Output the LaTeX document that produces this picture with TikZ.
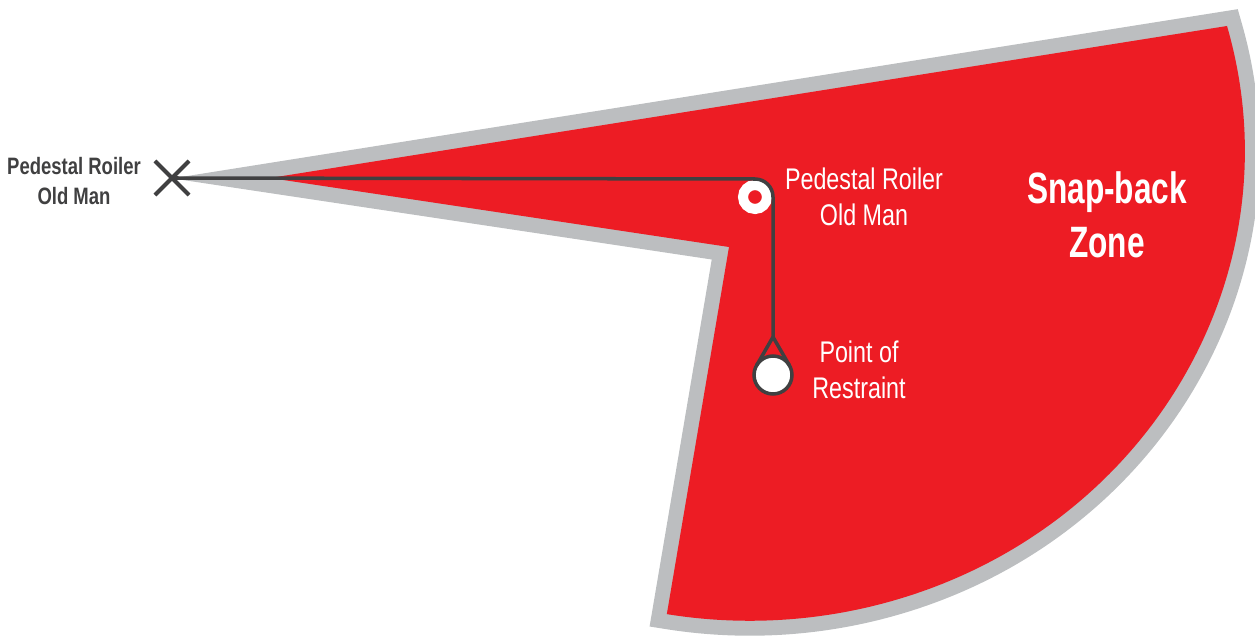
\documentclass[tikz,border=0pt]{standalone}
\usepackage{fontspec}
\usetikzlibrary{shapes.misc,calc,positioning}
\newfontfamily\condfont{Liberation Sans}[FakeStretch=0.72]
\newfontfamily\narrowfont{Liberation Sans}[FakeStretch=0.78]
\definecolor{zonered}{RGB}{237, 28, 36}
\definecolor{zonegrey}{RGB}{188, 190, 192}
\definecolor{ropegrey}{RGB}{64, 64, 65}

\begin{document}
\begin{tikzpicture}[
    x=0.02cm, y=0.02cm,
    zone/.style={fill=zonered, preaction={draw=zonegrey, line width=17pt, line join=miter}},
    rope/.style={draw=ropegrey, line width=2pt, line join=round},
    anchorpt/.style={cross out, draw=ropegrey, line width=2.3pt, minimum size=0.6cm, inner sep=0pt},
    roller/.style={circle, draw=white, fill=zonered, line width=5.7pt, minimum size=0.48cm, inner sep=0pt},
    restraint/.style={circle, draw=ropegrey, fill=white, line width=2pt, minimum size=0.76cm, inner sep=0pt, outer sep=0pt},
    darklabel/.style={align=center, text=ropegrey, font=\narrowfont\bfseries\fontsize{13.5}{17.5}\selectfont, inner sep=0pt},
    whitelabel/.style={align=center, text=white, font=\narrowfont\fontsize{17}{20.7}\selectfont, inner sep=0pt},
    zonelabel/.style={align=center, text=white, font=\condfont\bfseries\fontsize{25}{31}\selectfont, inner sep=0pt}
  ]
  \useasboundingbox (0,0) rectangle (1255,636);

  \path[zone] (270,458) -- (1227,610) arc[start angle=15.4, end angle=-99.65, x radius=495, y radius=470] -- (729,389) -- cycle;

  \node[anchorpt] (oldman) at (172,458) {};
  \node[darklabel] (oldmanlabel) at (74,455) {Pedestal Roiler\\Old Man};
  \node[roller] (pedestal) at (755,439) {};
  \node[whitelabel] (pedestallabel) at (864,439) {Pedestal Roiler\\Old Man};
  \node[restraint] (restraint) at (773,261) {};
  \coordinate (knot) at ($(restraint.center)+(0,38)$);
  \node[whitelabel] (restraintlabel) at (859,266) {Point of\\Restraint};
  \node[zonelabel] (zonelabel) at (1107,421) {Snap-back\\Zone};

  \draw[rope] (oldman.center) -- ($(pedestal.center)+(0,18)$) arc[start angle=90, end angle=0, radius=18] -- (knot) -- (restraint.30);
  \draw[rope] (restraint.150) -- (knot);
\end{tikzpicture}
\end{document}
